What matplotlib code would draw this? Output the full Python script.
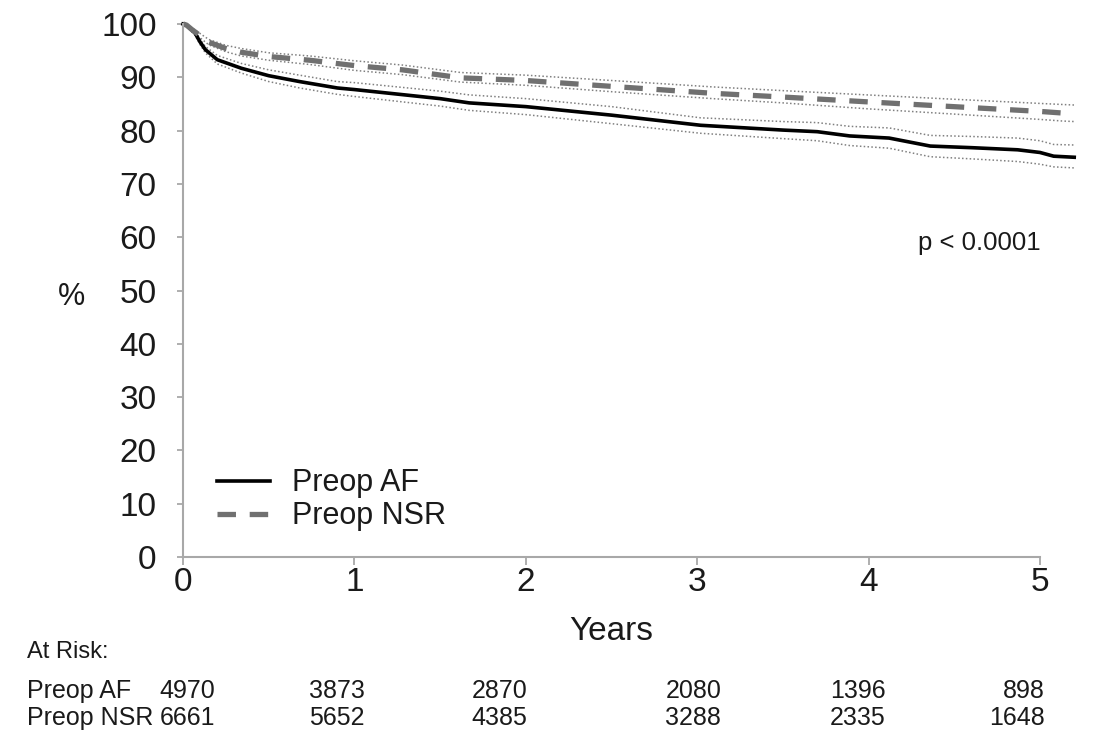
import matplotlib
matplotlib.use("Agg")
import matplotlib.pyplot as plt
import numpy as np

plt.rcParams['font.family'] = ['Liberation Sans', 'DejaVu Sans']

# survival curves (years, %)
t_af = [0, 0.02, 0.04, 0.07, 0.1, 0.13, 0.2, 0.34, 0.5, 0.68, 0.9, 1.0, 1.5, 1.67, 2.0, 2.5,
        3.02, 3.5, 3.7, 3.89, 4.12, 4.36, 4.6, 4.87, 5.0, 5.08, 5.2]
s_af = [100, 99.8, 99.2, 98.3, 96.6, 95.2, 93.3, 91.7, 90.3, 89.2, 88.0, 87.7, 86.0, 85.2,
        84.5, 82.9, 81.0, 80.1, 79.8, 79.0, 78.6, 77.1, 76.8, 76.4, 75.9, 75.2, 75.0]
lo_af = [100, 99.6, 98.9, 97.9, 96.1, 94.6, 92.5, 90.8, 89.2, 88.0, 86.8, 86.4, 84.6, 83.8,
         83.0, 81.3, 79.5, 78.5, 78.1, 77.2, 76.7, 75.1, 74.7, 74.2, 73.7, 73.2, 73.0]
hi_af = [100, 99.9, 99.5, 98.7, 97.1, 95.8, 94.1, 92.6, 91.4, 90.4, 89.2, 89.0, 87.4, 86.7,
         86.0, 84.5, 82.4, 81.7, 81.5, 80.8, 80.5, 79.1, 78.9, 78.6, 78.1, 77.4, 77.3]

t_nsr = [0, 0.02, 0.05, 0.1, 0.15, 0.25, 0.34, 0.5, 0.74, 1.0, 1.28, 1.62, 2.0, 2.5, 3.09,
         3.5, 3.99, 4.55, 5.0, 5.13, 5.2]
s_nsr = [100, 99.8, 99.0, 97.8, 96.6, 95.4, 94.7, 93.9, 93.2, 92.2, 91.4, 89.9, 89.4, 88.3,
         87.0, 86.3, 85.4, 84.4, 83.6, 83.3, 83.1]
lo_nsr = [100, 99.7, 98.7, 97.4, 96.1, 94.8, 94.0, 93.2, 92.4, 91.3, 90.5, 89.1, 88.5, 87.3,
          86.0, 85.2, 84.1, 83.0, 82.1, 81.8, 81.7]
hi_nsr = [100, 99.9, 99.3, 98.2, 97.1, 96.0, 95.4, 94.6, 94.0, 93.1, 92.3, 90.9, 90.4, 89.4,
          88.2, 87.5, 86.7, 85.8, 85.1, 84.9, 84.8]

years = [0, 1, 2, 3, 4, 5]
risk_af = [4970, 3873, 2870, 2080, 1396, 898]
risk_nsr = [6661, 5652, 4385, 3288, 2335, 1648]
risk_x = [0.19, 1.06, 2.01, 3.14, 4.10, 5.03]  # right edge of each column

fig = plt.figure(figsize=(10.94, 7.34), dpi=100)
ax = fig.add_axes([0.1673, 0.2411, 0.7833, 0.7262])

txt = '#1a1a1a'
band = '#808080'

for t, y in [(t_af, lo_af), (t_af, hi_af), (t_nsr, lo_nsr), (t_nsr, hi_nsr)]:
    ax.plot(t, y, color=band, lw=1.1, ls=(0, (1, 1.5)), clip_on=False)

ax.plot(t_af, s_af, color='black', lw=2.6, label='Preop AF', clip_on=False)
ax.plot(t_nsr, s_nsr, color='#707070', lw=3.8, dashes=(3.5, 2.6),
        label='Preop NSR', clip_on=False)

ax.set_xlim(0, 5)
ax.set_ylim(0, 100)
ax.set_xticks(years)
ax.set_yticks(range(0, 101, 10))
for s in ['top', 'right']:
    ax.spines[s].set_visible(False)
for s in ['left', 'bottom']:
    ax.spines[s].set_color('#a8a8a8')
    ax.spines[s].set_linewidth(1.5)
ax.tick_params(axis='x', direction='out', length=6, width=1.3, color='#a8a8a8',
               labelsize=24, labelcolor=txt, pad=1)
ax.tick_params(axis='y', direction='out', length=4, width=1.3, color='#a8a8a8',
               labelsize=24, labelcolor=txt, pad=15)

ax.set_xlabel('Years', fontsize=24, color=txt, labelpad=13)
ax.set_ylabel('%', fontsize=22, color=txt, rotation=0, va='center', ha='center')
ax.yaxis.set_label_coords((71 - 183) / 857, (557 - 297) / 533)

ax.text(4.29, 58.9, 'p < 0.0001', fontsize=18.5, color=txt, ha='left', va='center')

leg = ax.legend(loc='lower left', bbox_to_anchor=(0.0397, 0.048), frameon=False,
                fontsize=22, handlelength=1.74, handletextpad=0.72, labelspacing=0.1,
                borderaxespad=0, borderpad=0)
for t in leg.get_texts():
    t.set_color(txt)

# at risk table
fig.text(27 / 1094, 1 - 652 / 734, 'At Risk:', fontsize=17, color=txt, ha='left', va='center')
fig.text(27 / 1094, 1 - 691 / 734, 'Preop AF', fontsize=18, color=txt, ha='left', va='center')
fig.text(27 / 1094, 1 - 718 / 734, 'Preop NSR', fontsize=18, color=txt, ha='left', va='center')
for x, a, b in zip(risk_x, risk_af, risk_nsr):
    xf = ax.transData.transform((x, 0))[0] / fig.bbox.width
    fig.text(xf, 1 - 691 / 734, str(a), fontsize=18, color=txt, ha='right', va='center')
    fig.text(xf, 1 - 718 / 734, str(b), fontsize=18, color=txt, ha='right', va='center')

fig.savefig('out.png', dpi=100)
